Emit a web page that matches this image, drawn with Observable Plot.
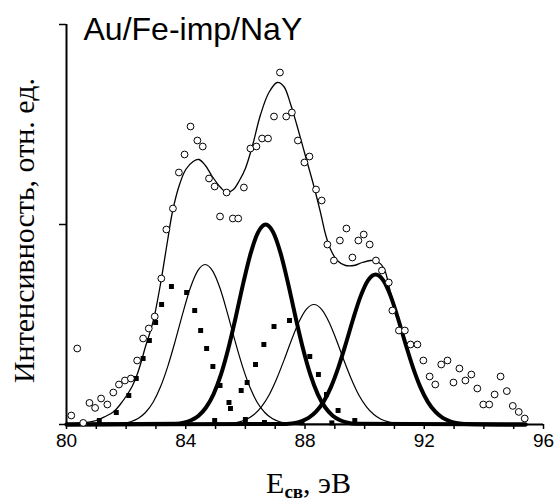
<!DOCTYPE html>
<html><head><meta charset="utf-8">
<script src="https://cdn.jsdelivr.net/npm/d3@7"></script>
<script src="https://cdn.jsdelivr.net/npm/@observablehq/plot@0.6"></script>
<style>body{margin:0;background:#fff} svg{display:block}</style>
</head><body><div id="chart"></div>
<script>
// ---- data ----
const titleText = "Au/Fe-imp/NaY";
const yLabelText = "Интенсивность, отн. ед.";
const xLabelMain = "E";
const xLabelSub = "св";
const xLabelRest = ", эВ";

const xTicks = [80,81,82,83,84,85,86,87,88,89,90,91,92,93,94,95,96];
const xTickLabels = [80, 84, 88, 92, 96];
const yTicks = [0, 1, 2];

// experimental points (open circles)
const rawE = [80.16,80.36,80.56,80.77,80.96,81.16,81.37,81.57,81.76,81.96,82.16,82.37,82.57,82.76,82.96,83.18,83.35,83.57,83.77,83.96,84.16,84.39,84.57,84.78,84.97,85.15,85.37,85.58,85.76,85.95,86.17,86.37,86.56,86.76,86.96,87.16,87.37,87.56,87.76,87.98,88.15,88.37,88.56,88.75,88.97,89.17,89.39,89.59,89.79,89.97,90.17,90.38,90.58,90.81,90.93,91.15,91.35,91.54,91.77,91.97,92.18,92.37,92.57,92.78,92.98,93.18,93.38,93.58,93.78,93.98,94.18,94.36,94.56,94.77,94.97,95.17,95.37];
const rawI = [0.045,0.38,0.008,0.108,0.083,0.13,0.10,0.16,0.20,0.22,0.23,0.32,0.43,0.48,0.54,0.73,0.975,1.08,1.26,1.35,1.49,1.42,1.39,1.23,1.19,1.04,1.16,1.03,1.03,1.185,1.38,1.39,1.43,1.43,1.54,1.76,1.54,1.56,1.42,1.31,1.34,1.175,1.12,0.90,0.82,0.92,0.98,0.835,0.92,0.95,0.90,0.82,0.77,0.71,0.57,0.47,0.47,0.40,0.40,0.32,0.24,0.20,0.30,0.32,0.21,0.28,0.22,0.25,0.18,0.10,0.10,0.15,0.24,0.167,0.093,0.063,0.03];

// filled squares
const sqE = [81.10,81.67,82.09,82.34,82.57,82.78,82.99,83.19,83.52,84.03,84.30,84.50,84.70,84.91,84.97,85.15,85.45,85.50,85.86,86.00,86.06,86.34,86.62,86.64,86.96,87.48,88.16,88.45,88.72,89.11,89.67,87.9,88.9];
const sqI = [0.02,0.06,0.145,0.23,0.33,0.42,0.51,0.60,0.69,0.66,0.57,0.47,0.38,0.29,0.02,0.195,0.11,0.08,0.17,0.025,0.21,0.30,0.40,0.01,0.49,0.52,0.34,0.25,0.15,0.07,0.02,0.008,0.008];

// envelope (thin line through the points)
const envE = [80.0,80.5,81.0,81.3,81.59,81.8,82.04,82.2,82.37,82.5,82.65,82.8,82.93,83.15,83.38,83.55,83.77,84.0,84.25,84.44,84.66,84.89,85.17,85.37,85.6,85.8,86.0,86.23,86.51,86.79,87.07,87.29,87.52,87.74,88.02,88.30,88.52,88.69,88.86,89.08,89.36,89.64,89.92,90.20,90.43,90.65,90.87,91.12,91.37,91.62,91.87,92.12,92.37,92.62,92.87,93.37,95.4];
const envI = [0.004,0.008,0.02,0.04,0.065,0.10,0.15,0.19,0.25,0.31,0.39,0.46,0.53,0.70,0.91,1.06,1.19,1.275,1.315,1.325,1.295,1.24,1.185,1.16,1.175,1.22,1.28,1.39,1.55,1.66,1.71,1.69,1.60,1.49,1.34,1.19,1.06,0.95,0.875,0.82,0.795,0.795,0.81,0.82,0.815,0.78,0.66,0.54,0.41,0.29,0.19,0.115,0.065,0.034,0.016,0.004,0];

// component peaks
const thin1E = [80.0,81.65,81.9,82.15,82.4,82.65,82.9,83.15,83.4,83.65,83.9,84.15,84.4,84.65,84.9,85.15,85.4,85.65,85.9,86.15,86.4,86.65,86.9,87.15,87.4,87.65,95.4];
const thin1I = [0,0.002,0.006,0.014,0.030,0.060,0.110,0.187,0.292,0.419,0.556,0.681,0.768,0.800,0.768,0.681,0.556,0.419,0.292,0.187,0.110,0.060,0.030,0.014,0.006,0.002,0];
const thick1E = [80.0,83.68,83.93,84.18,84.43,84.68,84.93,85.18,85.43,85.68,85.93,86.18,86.43,86.68,86.93,87.18,87.43,87.68,87.93,88.18,88.43,88.68,88.93,89.18,89.43,89.68,95.4];
const thick1I = [0,0.004,0.009,0.021,0.044,0.085,0.151,0.249,0.381,0.539,0.707,0.857,0.962,1.0,0.962,0.857,0.707,0.539,0.381,0.249,0.151,0.085,0.044,0.021,0.009,0.004,0];
const thin2E = [80.0,85.3,85.55,85.8,86.05,86.3,86.55,86.8,87.05,87.3,87.55,87.8,88.05,88.3,88.55,88.8,89.05,89.3,89.55,89.8,90.05,90.3,90.55,90.8,91.05,91.3,95.4];
const thin2I = [0,0.002,0.006,0.013,0.026,0.051,0.091,0.149,0.229,0.323,0.424,0.514,0.577,0.600,0.577,0.514,0.424,0.323,0.229,0.149,0.091,0.051,0.026,0.013,0.006,0.002,0];
const thick2E = [80.0,87.37,87.62,87.87,88.12,88.37,88.62,88.87,89.12,89.37,89.62,89.87,90.12,90.37,90.62,90.87,91.12,91.37,91.62,91.87,92.12,92.37,92.62,92.87,93.12,93.37,95.4];
const thick2I = [0,0.003,0.007,0.016,0.033,0.064,0.113,0.187,0.286,0.404,0.530,0.643,0.722,0.750,0.722,0.643,0.530,0.404,0.286,0.187,0.113,0.064,0.033,0.016,0.007,0.003,0];

// ---- build tables ----
const zip = (E, I) => E.map((e, i) => ({E: e, I: I[i]}));
const raw = zip(rawE, rawI);
const sq = zip(sqE, sqI);
const env = zip(envE, envI);
const thin1 = zip(thin1E, thin1I);
const thick1 = zip(thick1E, thick1I);
const thin2 = zip(thin2E, thin2I);
const thick2 = zip(thick2E, thick2I);

const sans = "'Liberation Sans', Arial, sans-serif";
const serif = "'Liberation Serif', 'Times New Roman', serif";

const chart = Plot.plot({
  width: 555,
  height: 498,
  marginLeft: 66,
  marginRight: 12,
  marginTop: 24,
  marginBottom: 74,
  style: {fontFamily: sans, background: "white", color: "black"},
  x: {domain: [80, 96]},
  y: {domain: [0, 2]},
  marks: [
    Plot.line(thin1, {x: "E", y: "I", stroke: "black", strokeWidth: 1.2, curve: "monotone-x"}),
    Plot.line(thin2, {x: "E", y: "I", stroke: "black", strokeWidth: 1.2, curve: "monotone-x"}),
    Plot.line(thick1, {x: "E", y: "I", stroke: "black", strokeWidth: 4, curve: "monotone-x"}),
    Plot.line(thick2, {x: "E", y: "I", stroke: "black", strokeWidth: 4, curve: "monotone-x"}),
    Plot.line(env, {x: "E", y: "I", stroke: "black", strokeWidth: 1.3, curve: "catmull-rom"}),
    Plot.ruleY([0], {stroke: "black", strokeWidth: 2}),
    Plot.ruleX([80], {y1: 0, y2: 2, stroke: "black", strokeWidth: 2}),
    Plot.axisX({ticks: xTicks, tickFormat: d => xTickLabels.includes(d) ? String(d) : "", tickSize: 5, tickPadding: 4, fontSize: 19, strokeWidth: 1.5, label: null}),
    Plot.axisY({ticks: yTicks, tickFormat: () => "", tickSize: 7, strokeWidth: 1.5, label: null}),
    Plot.dot(sq, {x: "E", y: "I", symbol: "square", r: 2.8, fill: "black", stroke: "none"}),
    Plot.dot(raw, {x: "E", y: "I", r: 3.4, fill: "white", stroke: "black", strokeWidth: 1}),
    Plot.text([titleText], {frameAnchor: "top-left", dx: 17, dy: 15.5, lineAnchor: "bottom", textAnchor: "start", fontSize: 32, fontFamily: sans, fill: "black"}),
    Plot.text([yLabelText], {frameAnchor: "left", rotate: -90, dx: -33, dy: 6, lineAnchor: "bottom", textAnchor: "middle", fontSize: 30, fontFamily: serif, fill: "black"}),
    Plot.text([xLabelMain + xLabelSub + xLabelRest], {frameAnchor: "bottom", dx: 3.5, dy: 68, lineAnchor: "bottom", textAnchor: "middle", fontSize: 30, fontFamily: serif, fill: "black", className: "xlab"})
  ]
});

document.getElementById("chart").appendChild(chart);

// subscript in the x label
const xl = d3.select(chart).select(".xlab text");
if (!xl.empty()) {
  xl.text(null);
  xl.append("tspan").text(xLabelMain);
  xl.append("tspan").text(xLabelSub).attr("font-size", 19).attr("font-weight", "bold").attr("dy", 5);
  xl.append("tspan").text(xLabelRest).attr("dy", -5);
}
</script></body></html>
